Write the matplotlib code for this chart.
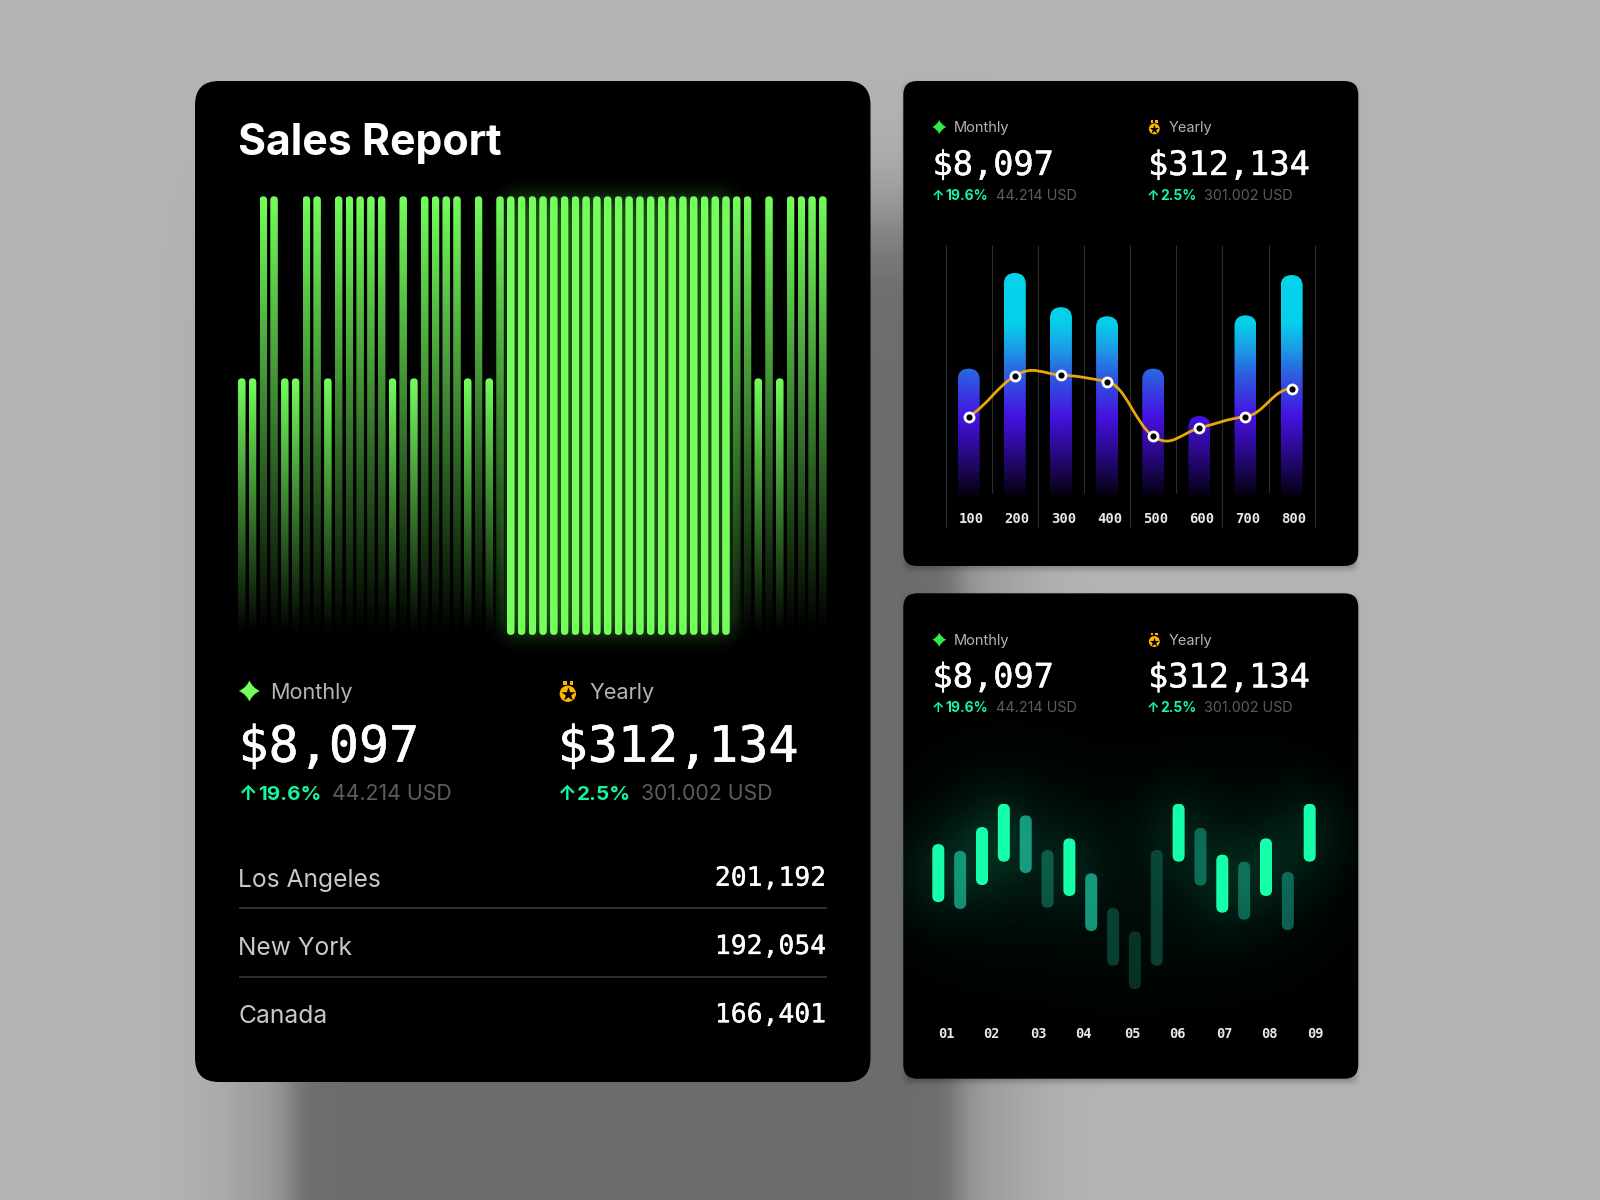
import math

import numpy as np
import matplotlib
matplotlib.use("Agg")
import matplotlib.pyplot as plt
import matplotlib.patheffects as pe
from matplotlib.colors import LinearSegmentedColormap, to_rgb
from matplotlib.patches import Circle, FancyBboxPatch, PathPatch, Rectangle
from matplotlib.path import Path

W, H = 1600, 1200

# Данные: большая диаграмма
tall = 100
short = 58.5
report_values = [short, short, tall, tall, short, short, tall, tall, short, tall, tall, tall, tall, tall,
                 short, tall, short, tall, tall, tall, tall, short, tall, short, tall,
                 tall, tall, tall, tall, tall, tall, tall, tall, tall, tall, tall, tall, tall, tall, tall, tall,
                 tall, tall, tall, tall, tall,
                 tall, tall, short, tall, short, tall, tall, tall, tall]
report_active = list(range(25, 46))

# Данные: столбцы с линией
column_labels = ["100", "200", "300", "400", "500", "600", "700", "800"]
column_values = [58, 100, 85, 81, 58, 37.2, 81.4, 99.1]
line_values = [36.9, 54.8, 55.2, 52.3, 28.3, 31.9, 36.9, 49.2]

# Данные: плавающие столбцы
candle_high = [78.2, 74.5, 87.4, 100, 93.7, 75, 81.3, 62.4, 43.7, 31.1, 75, 100, 86.9, 72.5, 68.7, 81.3, 63.1, 100]
candle_low = [46.9, 43.2, 56.1, 68.7, 62.6, 43.9, 50.2, 31.3, 12.6, 0, 12.6, 68.7, 55.8, 41.2, 37.4, 50.2, 31.8, 68.7]
candle_level = [1, .6, 1, 1, .65, .32, 1, .65, .25, .2, .25, 1, .4, 1, .4, 1, .4, 1]
candle_labels = ["01", "02", "03", "04", "05", "06", "07", "08", "09"]
candle_ticks = [0.37, 2.45, 4.59, 6.66, 8.88, 10.95, 13.1, 15.17, 17.28]

# Данные: таблица
cities = ["Los Angeles", "New York", "Canada"]
city_values = ["201,192", "192,054", "166,401"]

GREEN = "#74ff5c"
MINT = "#16ffab"
PCT = "#14f5a0"
GOLD = "#ffb400"
SANS = ["Inter", "DejaVu Sans"]
MONO = "DejaVu Sans Mono"

xs = np.arange(W) + .5
ys = np.arange(H) + .5
erf = np.vectorize(math.erf)


def soft_box(x0, x1, y0, y1, sx, sy):
    # размытый прямоугольник для теней и свечения
    k = math.sqrt(2)
    fx = .5 * (erf((xs - x0) / (k * sx)) - erf((xs - x1) / (k * sx)))
    fy = .5 * (erf((ys - y0) / (k * sy)) - erf((ys - y1) / (k * sy)))
    return np.outer(fy, fx)


def px_axes(x0, y_top, x1, y_bottom):
    ax = fig.add_axes([x0 / W, 1 - y_bottom / H, (x1 - x0) / W, (y_bottom - y_top) / H])
    ax.patch.set_visible(False)
    return ax


def to_px(ax, x, y):
    px, py = ax.transData.transform((x, y))
    return px, H - py


def pill(ax, x, y0, y1, width, **kw):
    # столбец со скруглёнными концами, радиус считается в пикселях
    box = ax.get_position()
    xr = ax.get_xlim()[1] - ax.get_xlim()[0]
    yr = ax.get_ylim()[1] - ax.get_ylim()[0]
    aspect = (yr / (box.height * H)) / (xr / (box.width * W))
    r = width / 2
    patch = FancyBboxPatch((x - r, y0), width, y1 - y0,
                           boxstyle=f"round,pad=0,rounding_size={r}",
                           mutation_aspect=aspect, linewidth=0, **kw)
    patch.set_transform(ax.transData)
    return patch


def add_glow(field, color, clip):
    rgba = np.zeros((H, W, 4))
    rgba[..., :3] = to_rgb(color)
    rgba[..., 3] = np.clip(field, 0, 1)
    im = bg.imshow(rgba, extent=(0, W, H, 0), aspect="auto", interpolation="nearest", zorder=2)
    im.set_clip_path(clip)


def draw_star(x, y, r, color):
    c = .3 * r
    verts = [(x, y - r), (x + c, y - c), (x + r, y), (x + c, y + c), (x, y + r),
             (x - c, y + c), (x - r, y), (x - c, y - c), (x, y - r)]
    codes = [Path.MOVETO] + [Path.CURVE3] * 8
    bg.add_patch(PathPatch(Path(verts, codes), facecolor=color, linewidth=0, zorder=4))


def draw_medal(x, y, r):
    bg.add_patch(Circle((x, y + r * .32), r * .95, facecolor=GOLD, linewidth=0, zorder=4))
    for dx in (-.55, .2):
        bg.add_patch(Rectangle((x + dx * r, y - r * 1.15), r * .4, r * .4, facecolor=GOLD, linewidth=0, zorder=4))
    bg.scatter([x], [y + r * .32], s=r * r * 1.5, marker="*", color="black", linewidths=0, zorder=5)


def put(x, y, s, size, color, family=SANS, weight="normal", ha="left", stroke=0):
    t = bg.text(x, y, s, fontsize=size, color=color, family=family, weight=weight, ha=ha, va="baseline",
                parse_math=False, zorder=6)
    if stroke:
        t.set_path_effects([pe.withStroke(linewidth=stroke, foreground=color)])


def draw_stats(cols, base, sizes, star_color, stroke):
    # cols: позиции для Monthly и Yearly, base: базовые линии трёх строк
    texts = [("Monthly", "$8,097", "19.6%", "44.214 USD"), ("Yearly", "$312,134", "2.5%", "301.002 USD")]
    for i, (c, t) in enumerate(zip(cols, texts)):
        if i == 0:
            draw_star(c["icon"], base[3], sizes[4], star_color)
        else:
            draw_medal(c["icon"], base[3], sizes[4] * .82)
        put(c["label"], base[0], t[0], sizes[0], "#b4b4b8")
        put(c["big"], base[1], t[1], sizes[1], "white", family=MONO, stroke=stroke)
        put(c["arrow"], base[2], "↑", sizes[2], PCT, weight="bold")
        put(c["pct"], base[2], t[2], sizes[2], PCT, weight="bold")
        put(c["usd"], base[2], t[3], sizes[3], "#5c5c62")


fig = plt.figure(figsize=(W / 100, H / 100), dpi=100)
bg = fig.add_axes([0, 0, 1, 1], zorder=0)

# Фон и тени
shade = np.full((H, W), 179.0)
shade *= 1 - .27 * soft_box(291, 959, 225, 1500, 13, 40)
shade *= 1 - .17 * soft_box(240, 1010, 200, 1500, 40, 60)
shade *= 1 - .25 * soft_box(905, 1356, 85, 569, 3, 3)
shade *= 1 - .25 * soft_box(905, 1356, 597, 1082, 3, 3)
bg.imshow(shade, extent=(0, W, H, 0), cmap="gray", vmin=0, vmax=255, aspect="auto", interpolation="nearest", zorder=0)

cards = []
for (x0, y0, x1, y1, r) in [(195, 81, 870.5, 1082, 24), (903.3, 81, 1358.3, 566, 14), (903.3, 593.3, 1358.3, 1078.7, 14)]:
    card = FancyBboxPatch((x0, y0), x1 - x0, y1 - y0, boxstyle=f"round,pad=0,rounding_size={r}",
                          facecolor="black", linewidth=0, zorder=1)
    bg.add_patch(card)
    cards.append(card)
bg.set_xlim(0, W)
bg.set_ylim(H, 0)
bg.axis("off")

# Большая диаграмма
ax1 = px_axes(236.4, 196.3, 828.2, 634.9)
ax1.set_xlim(-.5, 54.5)
ax1.set_ylim(0, 100)
ax1.axis("off")
fade = np.zeros((256, 1, 4))
fade[..., :3] = to_rgb(GREEN)
fade[:, 0, 3] = np.linspace(1, 0, 256)
solid = np.zeros((2, 1, 4))
solid[..., :3] = to_rgb(GREEN)
solid[..., 3] = 1
glow1 = np.zeros((H, W))
for i, v in enumerate(report_values):
    active = i in report_active
    clip = pill(ax1, i, 0, v, .7)
    im = ax1.imshow(solid if active else fade, extent=(i - .35, i + .35, 0, v), aspect="auto",
                    interpolation="bilinear", zorder=3)
    im.set_clip_path(clip)
    if active:
        px0, py1 = to_px(ax1, i - .33, v)
        px1, py0 = to_px(ax1, i + .33, 0)
        glow1 += soft_box(px0, px1, py1, py0, 10, 10)
ax1.set_xlim(-.5, 54.5)
ax1.set_ylim(0, 100)
add_glow(glow1 * .5, "#5fe84a", cards[0])

# Заголовок, показатели и таблица
put(238, 154.6, "Sales Report", 30.8, "white", weight="bold")
draw_stats([dict(icon=249.4, label=270.5, big=238.5, arrow=238.5, pct=258, usd=332.5),
            dict(icon=567.8, label=589, big=557.7, arrow=557.5, pct=577, usd=641),
            ],
           [699, 761.7, 800, 691], [15.6, 36, 14.8, 15.3, 10.5], GREEN, .4)
for i, (name, val) in enumerate(zip(cities, city_values)):
    base = 886.7 + i * 68.3
    put(238, base, name, 17.7, "#c8c8cc")
    put(826, base - 1, val, 19, "white", family=MONO, ha="right", stroke=.25)
for y in (908.3, 976.7):
    bg.plot([238.8, 826.5], [y, y], color="#333336", lw=1.3, zorder=4, solid_capstyle="butt")

# Столбцы с линией
small_left = dict(icon=939.3, label=953.3, big=932.5, arrow=931.5, pct=945.5, usd=995.5)
small_right = dict(icon=1154.3, label=1168.3, big=1148, arrow=1146.5, pct=1160.5, usd=1203.5)
draw_stats([small_left, small_right], [132, 175, 200, 127], [10.5, 24.2, 10, 10.3, 7], "#35e845", .3)
ax2 = px_axes(945.6, 245, 1314.7, 527.3)
ax2.set_xlim(-.5, 7.5)
ax2.set_ylim(-11.68, 112.3)
for s in ax2.spines.values():
    s.set_visible(False)
grid_x = np.arange(9) - .5
ax2.vlines(grid_x[::2], -11.68, 112.3, color="#2c2c2e", lw=.8, zorder=1, clip_on=False)
ax2.vlines(grid_x[1::2], 3.5, 112.3, color="#2c2c2e", lw=.8, zorder=1, clip_on=False)
col_cmap = LinearSegmentedColormap.from_list("columns", [
    (0, "#000000"), (.19, "#26087a"), (.37, "#4512e0"), (.56, "#2c60e0"),
    (.66, "#1d98e6"), (.78, "#06cfea"), (1, "#06d3ec")])
ramp = np.linspace(1, 0, 256)[:, None]
bar_w = 22 / 46.14
for i, v in enumerate(column_values):
    clip = pill(ax2, i, 0, v, bar_w)
    im = ax2.imshow(ramp, cmap=col_cmap, vmin=0, vmax=1, extent=(i - bar_w / 2, i + bar_w / 2, 0, 100),
                    aspect="auto", interpolation="bilinear", zorder=2)
    im.set_clip_path(clip)
# Плавная линия через точки
pts = np.column_stack([np.arange(len(line_values)), line_values])
tan = np.gradient(pts[:, 1]) * np.array([.5, 1, .6, .2, 1, .9, .2, 0])
verts = [tuple(pts[0])]
codes = [Path.MOVETO]
for a in range(len(pts) - 1):
    verts += [(pts[a, 0] + .4, pts[a, 1] + .55 * tan[a]), (pts[a + 1, 0] - .4, pts[a + 1, 1] - .55 * tan[a + 1]),
              tuple(pts[a + 1])]
    codes += [Path.CURVE4] * 3
ax2.add_patch(PathPatch(Path(verts, codes), facecolor="none", edgecolor="#e8a60e", lw=2, zorder=3))
ax2.plot(pts[:, 0], pts[:, 1], linestyle="none", marker="o", ms=6.5, mfc="black", mec="white", mew=2, zorder=4)
ax2.set_xticks(np.arange(8) + .05, column_labels, family=MONO, fontsize=10, color="#e8e8e8", weight="bold")
ax2.set_yticks([])
ax2.tick_params(axis="x", length=0, pad=-11)
ax2.set_xlim(-.5, 7.5)
ax2.set_ylim(-11.68, 112.3)

# Плавающие столбцы
draw_stats([small_left, small_right], [644.5, 687.4, 712.5, 639.7], [10.5, 24.2, 10, 10.3, 7], "#35e845", .3)
ax3 = px_axes(927.4, 803.7, 1320.6, 989)
ax3.set_xlim(-.5, 17.5)
ax3.set_ylim(0, 100)
for s in ax3.spines.values():
    s.set_visible(False)
near = np.zeros((H, W))
far = np.zeros((H, W))
for i, (hi, lo, lev) in enumerate(zip(candle_high, candle_low, candle_level)):
    tone = MINT if lev == 1 else "#20e0b8"
    ax3.add_patch(pill(ax3, i, lo, hi, 12 / 21.84, facecolor=tone, alpha=lev, zorder=3))
    px0, py1 = to_px(ax3, i - .27, hi)
    px1, py0 = to_px(ax3, i + .27, lo)
    if lev == 1:
        near += soft_box(px0, px1, py1, py0, 26, 26)
    far += soft_box(px0, px1, py1, py0, 60, 70) * lev
add_glow(far * .85, "#0fb87c", cards[2])
add_glow(near * .7, "#12d090", cards[2])
ax3.set_xticks(candle_ticks, candle_labels, family=MONO, fontsize=9.8, color="#e8e8e8", weight="bold")
ax3.set_yticks([])
ax3.tick_params(axis="x", length=0, pad=27)

bg.set_xlim(0, W)
bg.set_ylim(H, 0)
fig.savefig("out.png", dpi=100)
